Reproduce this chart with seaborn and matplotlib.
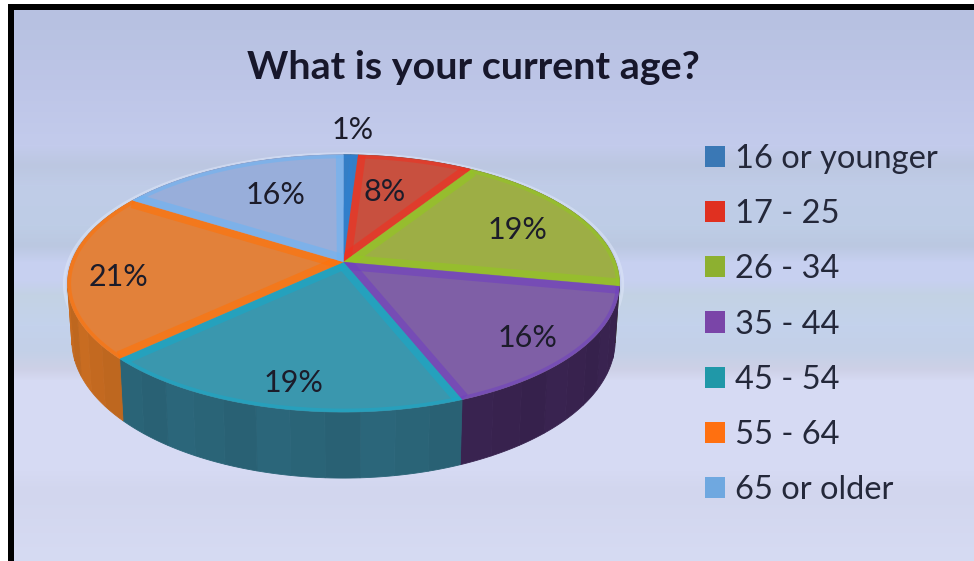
import numpy as np
import matplotlib
matplotlib.use("Agg")
import matplotlib.pyplot as plt
from matplotlib.colors import to_rgb
from matplotlib.patches import Patch, Polygon
import seaborn as sns

# Survey answers
age_groups = ["16 or younger", "17 - 25", "26 - 34", "35 - 44", "45 - 54", "55 - 64", "65 or older"]
shares = [1, 8, 19, 16, 19, 21, 16]
share_labels = ["1%", "8%", "19%", "16%", "19%", "21%", "16%"]
title_text = "What is your current age?"

top_colors = ["#3D7CB8", "#C8503F", "#9DAE45", "#7F5FA6", "#3A97AE", "#E2813A", "#98AEDA"]
edge_colors = ["#2F80D0", "#F03020", "#92C820", "#7040C0", "#18A8C8", "#FF7208", "#6CB4F4"]
side_colors = ["#245080", "#7A2A22", "#5E7A25", "#38224E", "#2A6478", "#C46A20", "#5F7DAE"]
legend_colors = ["#3A78B5", "#E03020", "#8DB030", "#7A45A8", "#2098A8", "#FF7010", "#6FA8E0"]

W, H = 974, 561
CX, CY = 343.5, 262.0          # pie centre in pixels
RX, RY, PERSP = 272.0, 125.0, 0.167
DEPTH = 55.0

LABEL_XY = [(353, 130), (385, 192), (517, 230), (528, 338), (293, 383), (118, 277), (276, 195)]


def project(frac, radius=1.0, lower=False):
    """Map a clockwise pie fraction (0 = back centre) onto the tilted disc."""
    theta = 2 * np.pi * np.asarray(frac)
    sx, sy = radius * np.sin(theta), radius * np.cos(theta)
    w = 1 / (1 + PERSP * sy)
    x, y = CX + RX * sx * w, CY - RY * sy * w
    if lower:
        x = CX + (x - CX) * 0.985
        y = y + DEPTH * w
    return x, y


sns.set_theme(style="white")
plt.rcParams["font.family"] = ["Lato", "DejaVu Sans"]
fig = plt.figure(figsize=(W / 100, H / 100), dpi=100, facecolor="white")
ax = fig.add_axes([0, 0, 1, 1])
ax.set_xlim(0, W)
ax.set_ylim(H, 0)
ax.axis("off")

# Banded blue backdrop
row_pos = [0, 30, 90, 145, 165, 185, 225, 245, 262, 280, 295, 325, 350, 368, 380, 470, 490, 561]
row_r = [183, 184, 190, 195, 188, 192, 190, 187, 199, 199, 195, 196, 195, 205, 214, 214, 210, 214]
row_g = [193, 194, 198, 203, 199, 204, 205, 200, 208, 208, 210, 210, 208, 208, 218, 218, 214, 219]
row_b = [225, 226, 232, 236, 225, 232, 230, 225, 240, 240, 228, 236, 232, 230, 243, 243, 238, 243]
rows = np.arange(H)
backdrop = np.stack([np.interp(rows, row_pos, c) for c in (row_r, row_g, row_b)], axis=1)[:, None, :] / 255
ax.imshow(backdrop, extent=(0, W, H, 0), aspect="auto", zorder=0)

# Photo frame: white outer margin with a black top and left edge
ax.fill([0, W, W, 8, 8, 0], [0, 0, 4, 4, H, H], color="white", lw=0, zorder=1)
ax.fill([8, W, W, 14, 14, 8], [4, 4, 9.5, 9.5, H, H], color="black", lw=0, zorder=1)

edges = np.concatenate([[0], np.cumsum(shares)]) / np.sum(shares)

# Soft pale rim around the disc
rim = np.linspace(0, 1, 400)
ax.plot(*project(rim, 1.012), color="#DDE6F8", lw=2, alpha=0.55, zorder=2)

# Side wall, built from narrow strips so the shading steps along the rim
for start, stop, base in zip(edges[:-1], edges[1:], side_colors):
    steps = max(2, int((stop - start) * 60))
    cuts = np.linspace(start, stop, steps + 1)
    for i in range(steps):
        arc = np.linspace(cuts[i], cuts[i + 1], 8)
        tx, ty = project(arc)
        bx, by = project(arc, lower=True)
        shade = 0.97 + 0.05 * ((i % 3) / 2)
        rgb = np.clip(np.array(to_rgb(base)) * shade, 0, 1)
        ax.fill(np.r_[tx, bx[::-1]], np.r_[ty, by[::-1]], color=rgb, lw=0.6, ec=rgb, zorder=3)

# Top faces with saturated bands just inside each radial edge
for start, stop, face, edge in zip(edges[:-1], edges[1:], top_colors, edge_colors):
    arc = np.linspace(start, stop, 120)
    ax_, ay_ = project(arc)
    px = np.r_[CX, ax_]
    py = np.r_[CY, ay_]
    wedge = Polygon(np.c_[px, py], closed=True, fc=face, ec=face, lw=0.5, zorder=4)
    ax.add_patch(wedge)
    for frac in (start, stop):
        ex, ey = project(frac)
        line, = ax.plot([CX, ex], [CY, ey], color=edge, lw=11, alpha=0.6, zorder=5, solid_capstyle="butt")
        line.set_clip_path(wedge)
    rim_line, = ax.plot(ax_, ay_, color=edge, lw=5, alpha=0.55, zorder=5)
    rim_line.set_clip_path(wedge)

# Percentage labels
for (lx, ly), text in zip(LABEL_XY, share_labels):
    ax.text(lx, ly, text, fontsize=22, color="#1C1C2A", ha="center", va="center", zorder=6)

ax.text(473, 67, title_text, fontsize=28.4, fontweight="bold", color="#17172B",
        ha="center", va="center", zorder=6)

handles = [Patch(facecolor=c, edgecolor="none") for c in legend_colors]
leg = ax.legend(handles, age_groups, loc="center left", bbox_to_anchor=(705 / W, 1 - 324.5 / H),
                bbox_transform=fig.transFigure, frameon=False, fontsize=23.5,
                labelcolor="#24283A", handlelength=0.62, handleheight=0.62, handletextpad=0.3,
                labelspacing=0.77, borderpad=0, borderaxespad=0)
leg.set_zorder(6)

fig.savefig("out.png", dpi=100)
